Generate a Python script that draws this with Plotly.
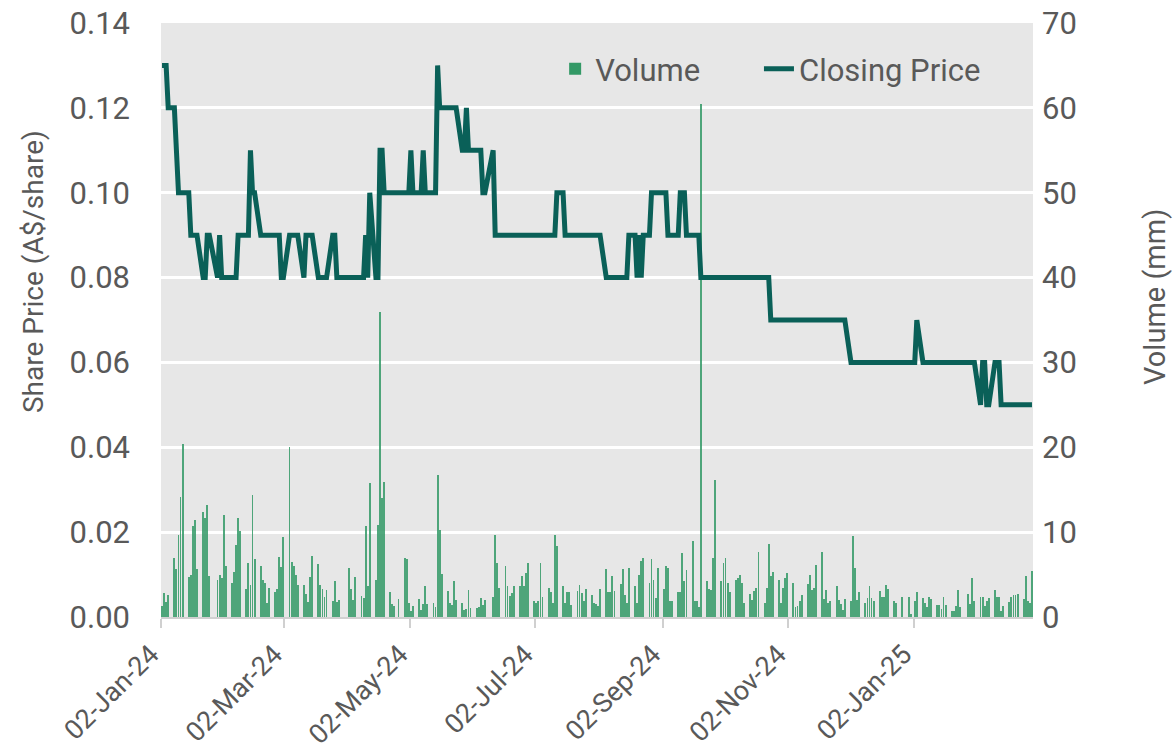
import pandas as pd
import plotly.graph_objects as go

# ---- Data ----
asx_holidays = ['2024-01-01', '2024-01-26', '2024-03-29', '2024-04-01', '2024-04-25',
                '2024-06-10', '2024-12-25', '2024-12-26', '2025-01-01', '2025-01-27']
first_day = '2024-01-02'
last_day = '2025-02-28'

# Daily traded volume (mm), one value per trading day
volume = [
    1.3, 2.8, 1.8, 2.6,
    7.0, 5.6, 9.7, 14.1, 20.4,
    4.7, 5.0, 10.7, 11.4, 5.6,
    12.4, 11.7, 13.2, 4.8,
    4.4, 5.0, 4.6, 12.0, 6.0,
    4.0, 5.3, 8.5, 11.7, 10.1,
    3.3, 6.4, 3.8, 14.4, 6.8,
    6.0, 4.4, 4.0, 1.6, 3.4,
    3.0, 3.3, 7.1, 5.9, 9.4,
    20.0, 6.5, 6.0, 5.0, 3.8,
    3.8, 2.7, 1.8, 4.7, 7.2,
    6.2, 3.8, 3.3, 2.3, 3.2,
    1.9, 4.3, 1.8, 2.0,
    5.8, 3.3, 2.0, 4.7,
    2.5, 2.2, 10.7, 3.7, 15.8,
    4.4, 10.9, 36.0, 14.0, 15.9,
    3.0, 1.5, 1.3, 2.1,
    6.9, 6.8, 1.6, 0.7, 1.3,
    2.1, 0.8, 1.5, 3.7, 1.5,
    1.7, 1.2, 16.7, 10.3, 5.1,
    3.1, 1.7, 1.4, 4.2, 2.0,
    1.7, 0.8, 0.9, 3.2, 1.1,
    1.1, 1.2, 2.2, 1.4, 2.0,
    2.4, 9.7, 6.4, 3.4,
    6.0, 3.7, 2.5, 2.8, 3.7,
    3.6, 4.8, 3.6, 5.2, 6.4,
    1.9, 1.7, 1.9, 6.4, 2.4,
    3.4, 2.9, 1.7, 9.7, 8.4,
    3.6, 1.7, 2.9, 3.0, 1.4,
    3.1, 3.8, 2.8, 1.9, 3.3,
    2.6, 1.7, 1.5, 1.3, 3.3,
    5.6, 3.0, 3.0, 4.8, 3.1,
    3.9, 5.6, 2.6, 1.7, 5.8,
    3.6, 1.7, 4.9, 6.6, 7.0,
    4.0, 6.8, 4.4, 2.2, 5.8,
    3.3, 6.0, 5.8, 1.9, 1.9,
    3.0, 2.9, 7.6, 4.2, 5.5,
    8.9, 1.9, 1.9, 1.2, 60.5,
    4.2, 3.3, 3.2, 6.9, 16.2,
    4.3, 6.4, 6.9, 4.0, 2.9,
    4.4, 4.6, 4.9, 4.0, 1.7,
    2.7, 2.0, 3.1, 3.4, 7.7,
    1.7, 3.4, 8.6, 4.8, 5.3,
    4.4, 1.6, 3.4, 4.6, 5.2,
    4.0, 1.2, 1.3, 1.9, 2.6,
    3.9, 4.9, 3.2, 3.4, 6.1,
    7.7, 2.1, 3.2, 1.7, 1.9,
    3.7, 2.0, 1.5, 0.8, 2.1,
    1.9, 9.6, 5.8, 2.0, 3.0,
    1.6, 2.2, 3.6, 2.2, 1.9,
    3.1, 2.4, 2.3, 3.8, 3.3,
    1.9, 1.7, 2.4,
    2.4, 0.4,
    1.9, 2.9,
    2.2, 1.7, 1.2, 2.3, 2.1,
    1.4, 1.4, 1.0, 2.4, 1.4,
    0.7, 0.7, 1.3, 3.2, 1.2,
    2.7, 1.5, 4.6, 1.9,
    2.4, 2.3, 1.3, 1.9, 2.2,
    3.2, 2.3, 2.3, 0.7, 1.3,
    1.8, 2.4, 2.6, 2.6, 2.7,
    2.1, 4.8, 1.9, 1.7, 5.4,
]

# Closing price (A$/share): dates on which the close changed, and the new close
price_change_dates = [
    '2024-01-02', '2024-01-05', '2024-01-09', '2024-01-10', '2024-01-16', '2024-01-22',
    '2024-01-24', '2024-01-29', '2024-01-30', '2024-01-31', '2024-02-08', '2024-02-14',
    '2024-02-15', '2024-02-19', '2024-02-29', '2024-03-04', '2024-03-11', '2024-03-12',
    '2024-03-18', '2024-03-25', '2024-03-27', '2024-04-10', '2024-04-11', '2024-04-12',
    '2024-04-15', '2024-04-17', '2024-04-19', '2024-05-02', '2024-05-03', '2024-05-08',
    '2024-05-09', '2024-05-15', '2024-05-16', '2024-05-27', '2024-05-29', '2024-05-30',
    '2024-06-06', '2024-06-11', '2024-06-12', '2024-07-12', '2024-07-16', '2024-08-05',
    '2024-08-16', '2024-08-20', '2024-08-21', '2024-08-22', '2024-08-23', '2024-08-27',
    '2024-09-04', '2024-09-10', '2024-09-13', '2024-09-20', '2024-10-24', '2024-12-02',
    '2025-01-03', '2025-01-06', '2025-02-03', '2025-02-04', '2025-02-06', '2025-02-10',
    '2025-02-13',
]
price_change_values = [
    0.13, 0.12, 0.11, 0.10, 0.09, 0.08,
    0.09, 0.08, 0.09, 0.08, 0.09, 0.11,
    0.10, 0.09, 0.08, 0.09, 0.08, 0.09,
    0.08, 0.09, 0.08, 0.09, 0.08, 0.10,
    0.08, 0.11, 0.10, 0.11, 0.10, 0.11,
    0.10, 0.13, 0.12, 0.11, 0.12, 0.11,
    0.10, 0.11, 0.09, 0.10, 0.09, 0.08,
    0.09, 0.08, 0.09, 0.08, 0.09, 0.10,
    0.09, 0.10, 0.09, 0.08, 0.07, 0.06,
    0.07, 0.06, 0.05, 0.06, 0.05, 0.06,
    0.05,
]

x_tick_dates = ['2024-01-02', '2024-03-02', '2024-05-02', '2024-07-02',
                '2024-09-02', '2024-11-02', '2025-01-02']
price_ticks = [0.00, 0.02, 0.04, 0.06, 0.08, 0.10, 0.12, 0.14]
volume_ticks = [0, 10, 20, 30, 40, 50, 60, 70]

# ---- Build the trading-day index ----
days = pd.bdate_range(first_day, last_day)
days = days[~days.isin(pd.to_datetime(asx_holidays))]
n = min(len(days), len(volume))
days = days[:n]
vol = volume[:n]

price_steps = pd.Series(price_change_values, index=pd.to_datetime(price_change_dates))
close = price_steps.reindex(days, method='ffill')

xs = days + pd.Timedelta(hours=12)  # centre each day in its date slot

GREEN = '#339966'
TEAL = '#0A6058'
TXT = '#595959'
FONT = 'Roboto'
NB = '\u00a0'

fig = go.Figure()
fig.add_trace(go.Bar(
    x=xs, y=vol, name='Volume' + NB * 7, yaxis='y',
    marker=dict(color=GREEN, line=dict(width=0), opacity=0.85),
    width=0.42 * 86400000,
))
fig.add_trace(go.Scatter(
    x=xs, y=close.values, name='Closing Price', yaxis='y2', mode='lines',
    line=dict(color=TEAL, width=5, shape='linear'),
))

fig.update_layout(
    width=1173, height=751,
    margin=dict(l=161, r=140, t=23, b=134, autoexpand=False),
    paper_bgcolor='white', plot_bgcolor='#E7E7E7',
    font=dict(family=FONT, color=TXT, size=28),
    bargap=0,
    showlegend=True,
    legend=dict(orientation='h', x=0.452, y=0.968, xanchor='left', yanchor='top',
                bgcolor='rgba(0,0,0,0)', font=dict(size=31, color=TXT),
                traceorder='normal'),
    xaxis=dict(
        type='date', range=['2024-01-02', '2025-03-01'],
        tickvals=pd.to_datetime(x_tick_dates), tickformat='%d-%b-%y', tickangle=-45,
        ticks='outside', ticklen=9, tickwidth=1.5, tickcolor='#D0D0D0',
        showline=True, linecolor='#D0D0D0', linewidth=1.5,
        showgrid=False, zeroline=False, ticklabeloverflow='allow',
        ticklabelshift=-10,
        tickfont=dict(size=27, color=TXT), automargin=False,
    ),
    yaxis=dict(
        side='right', range=[0, 70], tickvals=volume_ticks,
        showgrid=True, gridcolor='white', gridwidth=2.5, zeroline=False,
        showline=False, ticks='', ticklabelstandoff=8, ticklabeloverflow='allow',
        tickfont=dict(size=31, color=TXT),
        automargin=False,
    ),
    yaxis2=dict(
        overlaying='y', side='left', range=[0, 0.14], tickvals=price_ticks,
        tickformat='.2f', showgrid=False, zeroline=False, showline=False,
        ticks='', ticklabelstandoff=30, ticklabeloverflow='allow',
        tickfont=dict(size=31, color=TXT),
        automargin=False,
    ),
    annotations=[
        dict(text='Share Price (A$/share)', textangle=-90, showarrow=False,
             xref='paper', yref='paper', x=(33 - 161) / 872, y=(617 - 272) / 594,
             xanchor='center', yanchor='middle', font=dict(size=28, color=TXT)),
        dict(text='Volume (mm)', textangle=-90, showarrow=False,
             xref='paper', yref='paper', x=(1155 - 161) / 872, y=(617 - 297) / 594,
             xanchor='center', yanchor='middle', font=dict(size=29, color=TXT)),
    ],
)

fig.write_html('out.html', config={'displayModeBar': False},
               post_script="document.body.style.margin='0';document.body.style.overflow='hidden';")
